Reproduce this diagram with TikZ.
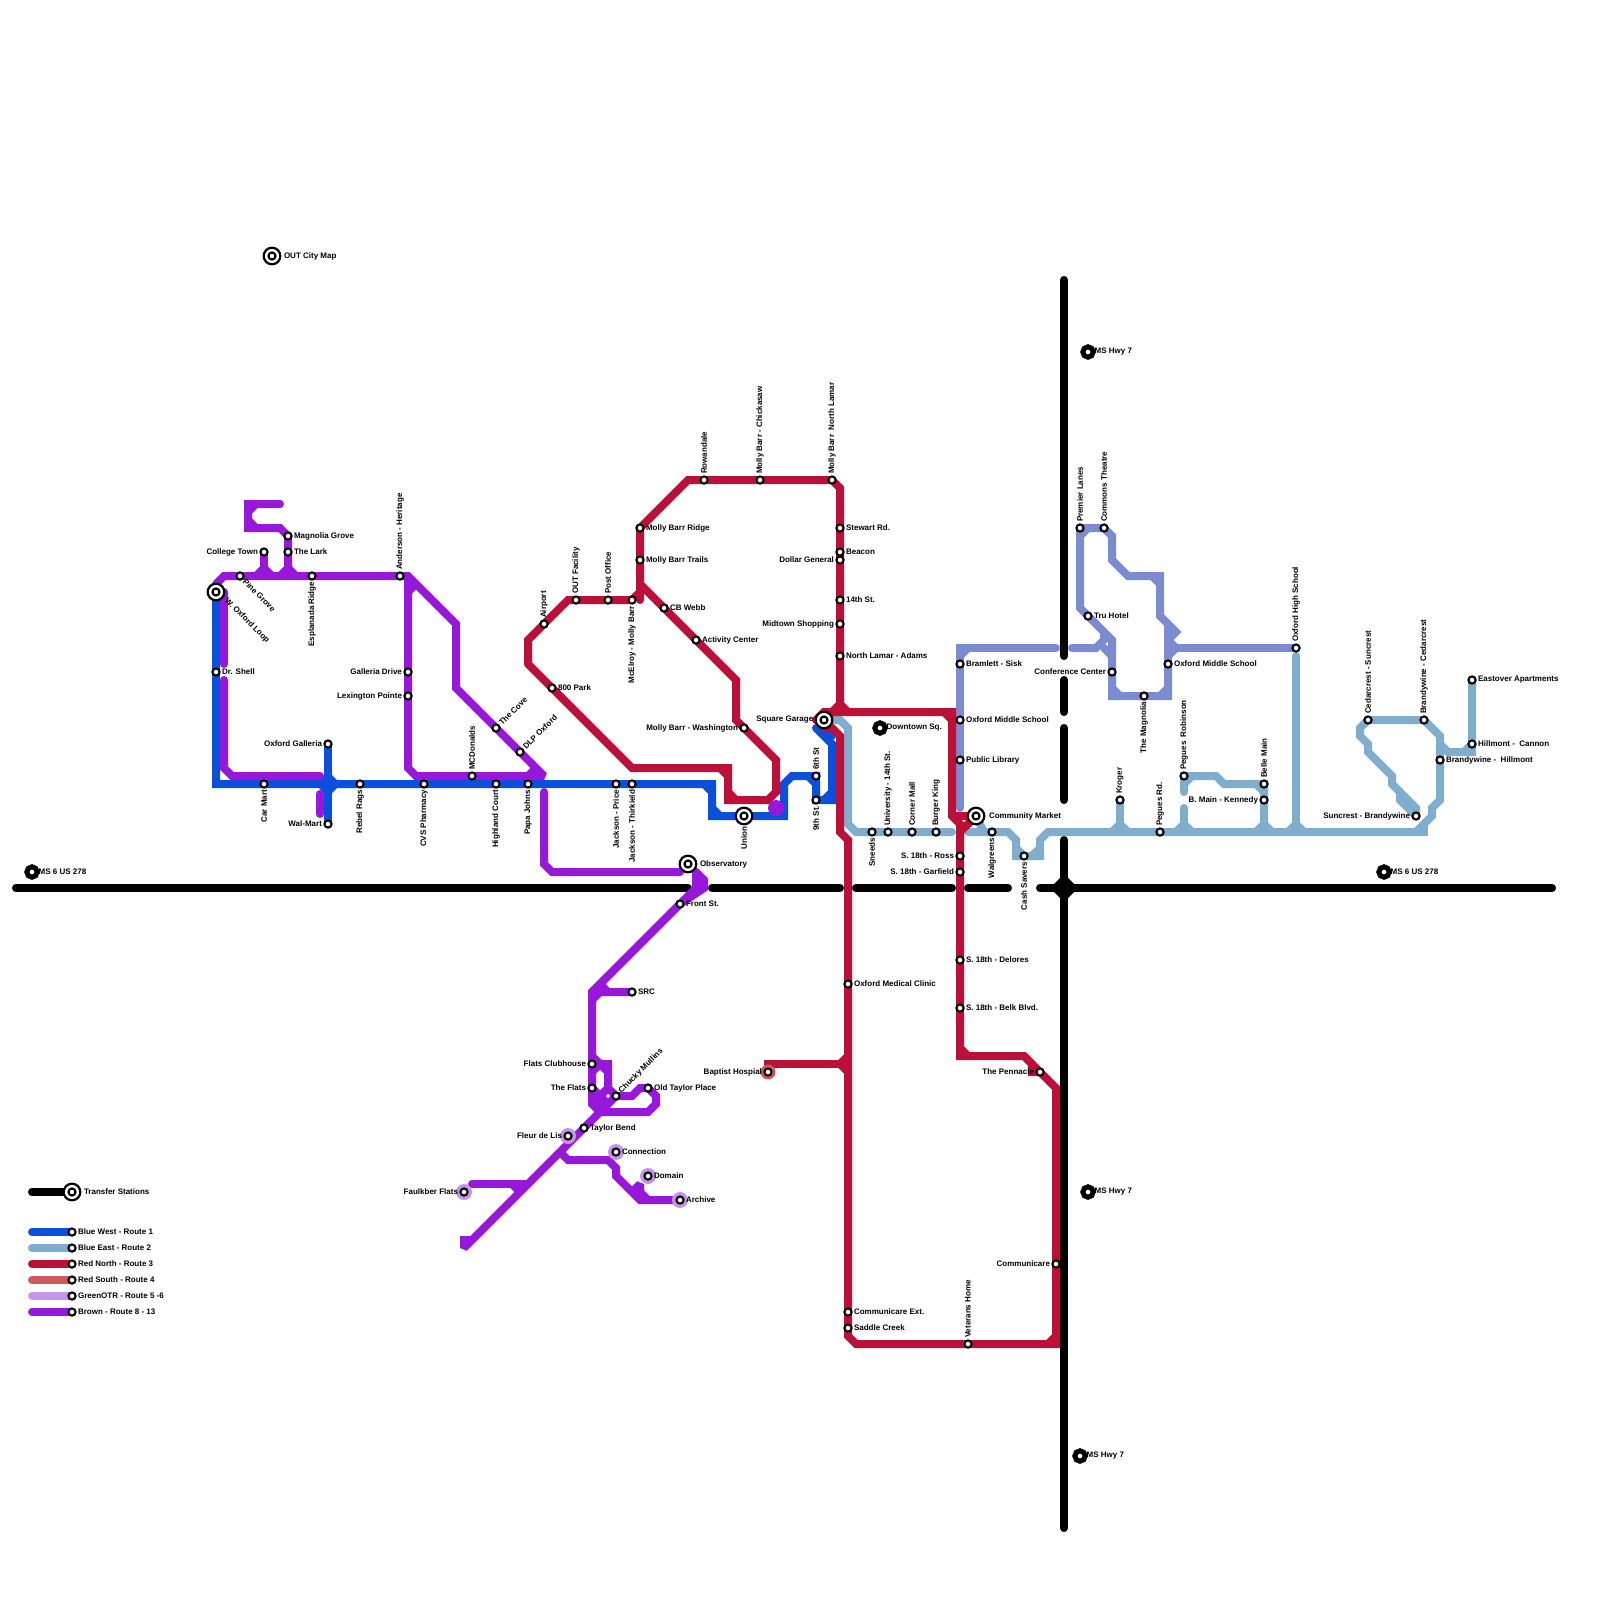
\documentclass[tikz,border=0pt]{standalone}
\usepackage{xcolor}
\usepackage{fontspec}
\setmainfont{Liberation Sans}
\usepackage{tikz}
\usetikzlibrary{backgrounds}
\definecolor{bluewest}{RGB}{10,80,220}
\definecolor{blueeast}{RGB}{127,173,205}
\definecolor{rednorth}{RGB}{189,16,56}
\definecolor{redsouth}{RGB}{206,89,89}
\definecolor{greenotr}{RGB}{199,148,235}
\definecolor{brownline}{RGB}{151,24,219}
\definecolor{periwinkle}{RGB}{122,140,207}
\tikzset{
  route/.style={line width=4pt, line cap=round, line join=miter, miter limit=2},
  road/.style={route, draw=black},
  bw/.style={route, draw=bluewest},
  be/.style={route, draw=blueeast},
  rn/.style={route, draw=rednorth},
  rs/.style={route, draw=redsouth},
  go/.style={route, draw=greenotr},
  br/.style={route, draw=brownline},
  pw/.style={route, draw=periwinkle},
  stop/.style={circle, draw=black, fill=white, line width=1.05pt, inner sep=0pt, minimum size=3.6pt},
  xfer/.style={circle, draw=black, fill=white, line width=1.1pt, inner sep=0pt, minimum size=8.3pt,
    path picture={\draw[line width=1.1pt] (path picture bounding box.center) circle (1.75pt);}},
  term/.style={circle, draw=black, fill=white, line width=2.5pt, inner sep=0pt, minimum size=5.2pt},
  halogo/.style={circle, fill=greenotr, inner sep=0pt, minimum size=8pt},
  halors/.style={circle, fill=redsouth, inner sep=0pt, minimum size=7.5pt},
  lbl/.style={font=\fontsize{4}{4.8}\selectfont\bfseries, inner sep=0.5pt},
  lr/.style={label={[lbl]right:#1}},
  lt/.style={label={[lbl,xshift=-1.2pt]right:#1}},
  lx/.style={label={[lbl,xshift=0.6pt]right:#1}},
  ll/.style={label={[lbl]left:#1}},
  lu/.style={label={[lbl,rotate=90,anchor=west]above:#1}},
  ld/.style={label={[lbl,rotate=90,anchor=east]below:#1}},
  lne/.style={label={[lbl,rotate=45,anchor=west]45:#1}},
  lse/.style={label={[lbl,rotate=-45,anchor=west]-45:#1}}
}
\begin{document}
\begin{tikzpicture}[x=0.5pt, y=-0.5pt]
\useasboundingbox (0,0) rectangle (1600,1600);
% transfer and end points
\node[xfer, label={[lbl,rotate=-45,anchor=west,xshift=0.8pt,yshift=0.8pt]-45:W. Oxford Loop}] (oxfordloop) at (216,592) {};
\node[xfer, lx=OUT City Map] (citymap) at (272,256) {};
\node[xfer, ll={Square Garage\hspace{1pt}}] (squaregarage) at (824,720) {};
\node[xfer, ld=Union] (unionst) at (744,816) {};
\node[xfer, lx=Observatory] (observatory) at (688,864) {};
\node[xfer, lx={\hspace{0.5pt}Community Market}] (commarket) at (976,816) {};
\node[term, lt=Downtown Sq.] (downtown) at (880,728) {};
\node[term, lt=MS 6 US 278] (ms6west) at (32,872) {};
\node[term, lt=MS 6 US 278] (ms6east) at (1384,872) {};
\node[term, lt=MS Hwy 7] (hwynorth) at (1088,352) {};
\node[term, lt=MS Hwy 7] (hwymid) at (1088,1192) {};
\node[term, lt=MS Hwy 7] (hwysouth) at (1080,1456) {};
% blue west
\node[stop, lr=Dr. Shell] (drshell) at (216,672) {};
\node[stop, ld=Car Mart] (carmart) at (264,784) {};
\node[stop, ll=Oxford Galleria] (galleria) at (328,744) {};
\node[stop, ll=Wal-Mart] (walmart) at (328,824) {};
\node[stop, ld=Rebel Rags] (rebelrags) at (360,784) {};
\node[stop, ld=CVS Pharmacy] (cvs) at (424,784) {};
\node[stop, ld=Highland Court] (highland) at (496,784) {};
\node[stop, ld=Papa Johns] (papajohns) at (528,784) {};
\node[stop, ld=Jackson - Price] (jprice) at (616,784) {};
\node[stop, ld=Jackson - Thirkield] (jthirkield) at (632,784) {};
\node[stop, lu=6th St] (sixth) at (816,776) {};
\node[stop, ld=9th St.] (ninth) at (816,800) {};
% brown
\node[stop, lse=Pine Grove] (pinegrove) at (240,576) {};
\node[stop, ll=College Town] (collegetown) at (264,552) {};
\node[stop, lr=Magnolia Grove] (magnolia) at (288,536) {};
\node[stop, lr=The Lark] (lark) at (288,552) {};
\node[stop, ld=Esplanada Ridge] (esplanada) at (312,576) {};
\node[stop, lu=Anderson - Heritage] (anderson) at (400,576) {};
\node[stop, ll=Galleria Drive] (galleriadr) at (408,672) {};
\node[stop, ll=Lexington Pointe] (lexington) at (408,696) {};
\node[stop, lu=MCDonalds] (mcdonalds) at (472,776) {};
\node[stop, lne=The Cove] (cove) at (496,728) {};
\node[stop, lne=DLP Oxford] (dlp) at (520,752) {};
\node[stop, lr=Front St.] (frontst) at (680,904) {};
\node[stop, lr=SRC] (src) at (632,992) {};
\node[stop, ll=Flats Clubhouse] (clubhouse) at (592,1064) {};
\node[stop, ll=The Flats] (flats) at (592,1088) {};
\node[stop, lne=Chucky Mullins] (chucky) at (616,1096) {};
\node[stop, lr=Old Taylor Place] (oldtaylor) at (648,1088) {};
\node[stop, lr=Taylor Bend] (taylorbend) at (584,1128) {};
\node[halogo] (fleurhalo) at (568,1136) {};
\node[stop, ll={Fleur de Lis\hspace{1.5pt}}] (fleur) at (568,1136) {};
\node[halogo] (connhalo) at (616,1152) {};
\node[stop, lr=Connection] (connection) at (616,1152) {};
\node[halogo] (domainhalo) at (648,1176) {};
\node[stop, lr=Domain] (domain) at (648,1176) {};
\node[halogo] (archivehalo) at (680,1200) {};
\node[stop, lr=Archive] (archive) at (680,1200) {};
\node[halogo] (faulkhalo) at (464,1192) {};
\node[stop, ll={Faulkber Flats\hspace{1.5pt}}] (faulkner) at (464,1192) {};
\node[circle, fill=brownline, inner sep=0pt, minimum size=8pt] (junctiondot) at (776,808) {};
% red
\node[stop, lu=Airport] (airport) at (544,624) {};
\node[stop, lu=OUT Facility] (outfacility) at (576,600) {};
\node[stop, lu=Post Office] (postoffice) at (608,600) {};
\node[stop, ld=McElroy - Molly Barr] (mcelroy) at (632,600) {};
\node[stop, lr=800 Park] (park) at (552,688) {};
\node[stop, lr=Molly Barr Ridge] (ridge) at (640,528) {};
\node[stop, lr=Molly Barr Trails] (trails) at (640,560) {};
\node[stop, lr=CB Webb] (cbwebb) at (664,608) {};
\node[stop, lr=Activity Center] (activity) at (696,640) {};
\node[stop, ll=Molly Barr - Washington] (washington) at (744,728) {};
\node[stop, lu=Rowandale] (rowandale) at (704,480) {};
\node[stop, lu=Molly Barr - Chickasaw] (chickasaw) at (760,480) {};
\node[stop, lu={Molly Barr~ North Lamar}] (northlamar) at (832,480) {};
\node[stop, lr=Stewart Rd.] (stewart) at (840,528) {};
\node[stop, lr=Beacon] (beacon) at (840,552) {};
\node[stop, ll=Dollar General] (dollar) at (840,560) {};
\node[stop, lr=14th St.] (fourteenth) at (840,600) {};
\node[stop, ll=Midtown Shopping] (midtown) at (840,624) {};
\node[stop, lr=North Lamar - Adams] (adams) at (840,656) {};
\node[stop, lr=Oxford Medical Clinic] (medical) at (848,984) {};
\node[halors] (baptisthalo) at (768,1072) {};
\node[stop, ll={Baptist Hospial\hspace{1pt}}] (baptist) at (768,1072) {};
\node[stop, lr=Communicare Ext.] (commext) at (848,1312) {};
\node[stop, lr=Saddle Creek] (saddle) at (848,1328) {};
\node[stop, lu=Veterans Home] (veterans) at (968,1344) {};
\node[stop, ll=Communicare] (communicare) at (1056,1264) {};
\node[stop, ll=The Pennacle] (pennacle) at (1040,1072) {};
\node[stop, ll=S. 18th - Ross] (ross) at (960,856) {};
\node[stop, ll=S. 18th - Garfield] (garfield) at (960,872) {};
\node[stop, lr=S. 18th - Delores] (delores) at (960,960) {};
\node[stop, lr=S. 18th - Belk Blvd.] (belk) at (960,1008) {};
% periwinkle
\node[stop, lr=Bramlett - Sisk] (bramlett) at (960,664) {};
\node[stop, lr=Oxford Middle School] (middlewest) at (960,720) {};
\node[stop, lr=Public Library] (library) at (960,760) {};
\node[stop, lu=Premier Lanes] (premier) at (1080,528) {};
\node[stop, lu=Commons Theatre] (commons) at (1104,528) {};
\node[stop, lr=Tru Hotel] (truhotel) at (1088,616) {};
\node[stop, ll=Conference Center] (conference) at (1112,672) {};
\node[stop, ld=The Magnolia] (themagnolia) at (1144,696) {};
\node[stop, lr=Oxford Middle School] (middleeast) at (1168,664) {};
\node[stop, lu=Oxford High School] (highschool) at (1296,648) {};
% blue east
\node[stop, ld=Sneeds] (sneeds) at (872,832) {};
\node[stop, lu=University - 14th St.] (university) at (888,832) {};
\node[stop, lu=Corner Mall] (cornermall) at (912,832) {};
\node[stop, lu=Burger King] (burgerking) at (936,832) {};
\node[stop, ld=Walgreens] (walgreens) at (992,832) {};
\node[stop, ld=Cash Savers] (cashsavers) at (1024,856) {};
\node[stop, lu=Kroger] (kroger) at (1120,800) {};
\node[stop, lu=Pegues Rd.] (peguesrd) at (1160,832) {};
\node[stop, lu={Pegues~ Robinson}] (robinson) at (1184,776) {};
\node[stop, lu=Belle Main] (bellemain) at (1264,784) {};
\node[stop, ll=B. Main - Kennedy] (kennedy) at (1264,800) {};
\node[stop, lu=Cedarcrest - Suncrest] (cedarcrest) at (1368,720) {};
\node[stop, lu=Brandywine - Cedarcrest] (brandycedar) at (1424,720) {};
\node[stop, ll=Suncrest - Brandywine] (suncrest) at (1416,816) {};
\node[stop, lr={Brandywine -~ Hillmont}] (brandyhill) at (1440,760) {};
\node[stop, lr={Hillmont -~ Cannon}] (cannon) at (1472,744) {};
\node[stop, lr=Eastover Apartments] (eastover) at (1472,680) {};
% legend
\node[xfer, lx=Transfer Stations] (lgxfer) at (72,1192) {};
\node[stop, lr=Blue West - Route 1] (lgbw) at (72,1232) {};
\node[stop, lr=Blue East - Route 2] (lgbe) at (72,1248) {};
\node[stop, lr=Red North - Route 3] (lgrn) at (72,1264) {};
\node[stop, lr=Red South - Route 4] (lgrs) at (72,1280) {};
\node[stop, lr=GreenOTR - Route 5 -6] (lggo) at (72,1296) {};
\node[stop, lr=Brown - Route 8 - 13] (lgbr) at (72,1312) {};
\coordinate (lgxferend) at (32,1192);
\coordinate (lgbwend) at (32,1232);
\coordinate (lgbeend) at (32,1248);
\coordinate (lgrnend) at (32,1264);
\coordinate (lgrsend) at (32,1280);
\coordinate (lggoend) at (32,1296);
\coordinate (lgbrend) at (32,1312);
\begin{scope}[on background layer]
\draw[road] (lgxferend) -- (lgxfer.center);
\draw[bw] (lgbwend) -- (lgbw.center);
\draw[be] (lgbeend) -- (lgbe.center);
\draw[rn] (lgrnend) -- (lgrn.center);
\draw[rs] (lgrsend) -- (lgrs.center);
\draw[go] (lggoend) -- (lggo.center);
\draw[br] (lgbrend) -- (lgbr.center);
% roads
\draw[road] (16,888) -- (688,888);
\draw[road] (712,888) -- (840,888);
\draw[road] (856,888) -- (952,888);
\draw[road] (968,888) -- (1008,888);
\draw[road] (1040,888) -- (1552,888);
\draw[road] (1064,280) -- (1064,656);
\draw[road] (1064,680) -- (1064,712);
\draw[road] (1064,728) -- (1064,800);
\draw[road] (1064,840) -- (1064,1528);
\fill[black] (1050,888) -- (1064,874) -- (1078,888) -- (1064,902) -- cycle;
% blue east
\draw[be] (squaregarage.center) -- (840,720) -- (848,728) -- (848,824) -- (856,832) -- (sneeds.center) -- (burgerking.center) -- (952,832);
\draw[be] (commarket.center) -- (984,832);
\draw[be] (968,832) -- (walgreens.center) -- (1008,832) -- (1016,840) -- (1016,856) -- (cashsavers.center) -- (1040,856) -- (1040,840) -- (1048,832) -- (peguesrd.center) -- (1424,832);
\draw[be] (1016,848) -- (1024,856);
\draw[be] (1032,856) -- (1040,848);
\draw[be] (kroger.center) -- (1120,832);
\draw[be] (1112,832) -- (1120,824) -- (1128,832);
\draw[be] (1184,792) -- (robinson.center) -- (1216,776) -- (1224,784) -- (bellemain.center) -- (kennedy.center) -- (1264,832);
\draw[be] (1184,784) -- (1192,776);
\draw[be] (1256,784) -- (1264,792);
\draw[be] (1184,808) -- (1184,832);
\draw[be] (1176,832) -- (1184,824) -- (1192,832);
\draw[be] (1256,832) -- (1264,824) -- (1272,832);
\draw[be] (1296,656) -- (1296,832);
\draw[be] (1288,832) -- (1296,824) -- (1304,832);
\draw[be] (1424,824) -- (1424,832) -- (1416,832);
\draw[be] (cedarcrest.center) -- (brandycedar.center) -- (1440,736) -- (brandyhill.center) -- (1440,800) -- (1432,808) -- (1432,816) -- (1416,832);
\draw[be] (cedarcrest.center) -- (1360,728) -- (1360,736) -- (1368,744) -- (1368,752) -- (1392,776) -- (1392,784) -- (1400,792) -- (1400,800) -- (suncrest.center);
\draw[be] (1392,784) -- (1416,808) -- (suncrest.center);
\draw[be] (eastover.center) -- (cannon.center) -- (1472,752) -- (1448,752) -- (1440,744);
\draw[be] (1464,752) -- (1472,744);
% periwinkle
\draw[pw] (960,808) -- (bramlett.center) -- (960,648) -- (1056,648);
\draw[pw] (960,656) -- (968,648);
\draw[pw] (1072,648) -- (1096,648) -- (1104,640) -- (1104,632);
\draw[pw] (1104,648) -- (1112,656);
\draw[pw] (premier.center) -- (commons.center) -- (1112,536) -- (1112,560) -- (1128,576) -- (1160,576) -- (1160,616) -- (1176,632) -- (1168,640);
\draw[pw] (1152,576) -- (1160,584);
\draw[pw] (1080,536) -- (1088,528);
\draw[pw] (premier.center) -- (1080,608) -- (truhotel.center) -- (1112,640) -- (conference.center) -- (1112,696) -- (themagnolia.center) -- (1168,696) -- (middleeast.center) -- (1168,624);
\draw[pw] (1112,688) -- (1120,696);
\draw[pw] (1160,696) -- (1168,688);
\draw[pw] (1168,648) -- (highschool.center);
\draw[pw] (1168,640) -- (1176,648) -- (1168,656);
% blue west
\draw[bw] (oxfordloop.center) -- (216,784) -- (carmart.center) -- (712,784) -- (712,816) -- (784,816) -- (784,784) -- (792,776) -- (sixth.center) -- (ninth.center) -- (832,800) -- (832,744) -- (816,728);
\draw[bw] (704,784) -- (712,792);
\draw[bw] (712,808) -- (720,816);
\draw[bw] (808,776) -- (816,784);
\draw[bw] (824,800) -- (832,792);
\draw[bw] (824,728) -- (832,736);
\draw[bw] (galleria.center) -- (walmart.center);
\fill[bluewest] (315,784) -- (328,771) -- (341,784) -- (328,797) -- cycle;
% brown
\draw[br] (216,584) -- (224,576) -- (anderson.center) -- (408,576) -- (456,624) -- (456,688) -- (cove.center) -- (544,776) -- (416,776) -- (408,768) -- (408,576);
\draw[br] (408,592) -- (416,584);
\draw[br] (528,776) -- (536,768);
\draw[br] (224,592) -- (224,664);
\draw[br] (224,680) -- (224,768) -- (232,776) -- (320,776);
\draw[br] (320,794) -- (320,814);
\draw[br] (collegetown.center) -- (264,576);
\draw[br] (256,576) -- (264,568) -- (272,576);
\draw[br] (280,504) -- (248,504) -- (248,528) -- (280,528) -- (288,536) -- (288,576);
\draw[br] (248,512) -- (256,504);
\draw[br] (248,520) -- (256,528);
\draw[br] (280,576) -- (288,568) -- (296,576);
\draw[br] (544,792) -- (544,864) -- (552,872) -- (680,872);
\draw[br] (696,872) -- (704,880) -- (704,888) -- (frontst.center) -- (592,992) -- (592,1104) -- (600,1112);
\draw[br] (704,880) -- (592,992);
\draw[br] (696,872) -- (696,888) -- (704,888);
\draw[br] (592,1000) -- (600,992) -- (src.center);
\draw[br] (600,984) -- (608,992);
\draw[br] (592,1056) -- (600,1064) -- (608,1064) -- (608,1088) -- (chucky.center) -- (632,1096) -- (640,1088) -- (oldtaylor.center) -- (656,1096) -- (656,1104) -- (648,1112) -- (600,1112);
\draw[br] (flats.center) -- (608,1104) -- (616,1096);
\draw[br] (592,1072) -- (600,1064) -- (608,1072);
\draw[br] (592,1088) -- (600,1096) -- (608,1088);
\draw[br] (600,1096) -- (600,1112) -- (608,1104);
\draw[br] (600,1112) -- (taylorbend.center) -- (464,1248) -- (464,1240) -- (472,1240);
\draw[br] (472,1184) -- (528,1184);
\draw[br] (512,1184) -- (520,1192);
\draw[br] (560,1152) -- (568,1160) -- (608,1160) -- (616,1168) -- (616,1176) -- (640,1200) -- (archive.center);
\draw[br] (632,1192) -- (640,1184) -- (640,1192) -- (648,1200);
% red
\draw[rn] (528,664) -- (528,640) -- (568,600) -- (mcelroy.center);
\draw[rn] (528,664) -- (632,768) -- (728,768) -- (728,800) -- (768,800) -- (776,792) -- (776,760) -- (washington.center) -- (736,720) -- (736,680) -- (640,584);
\draw[rn] (720,768) -- (728,776);
\draw[rn] (728,792) -- (736,800);
\draw[rn] (mcelroy.center) -- (640,592);
\draw[rn] (640,600) -- (ridge.center) -- (688,480) -- (northlamar.center) -- (840,488) -- (840,712);
\draw[rn] (832,712) -- (840,704) -- (848,712);
\draw[rn] (816,720) -- (824,712) -- (952,712) -- (952,816) -- (960,824) -- (960,1056) -- (1024,1056) -- (1056,1088) -- (communicare.center) -- (1056,1344) -- (856,1344) -- (848,1336) -- (848,840) -- (840,832) -- (840,736) -- (832,728) -- (824,728);
\draw[rn] (944,712) -- (952,720);
\draw[rn] (952,816) -- (976,816) -- (960,832);
\draw[rn] (960,1048) -- (968,1056);
\draw[rn] (1024,1056) -- (1032,1064) -- (1032,1072) -- (pennacle.center);
\draw[rn] (1048,1344) -- (1056,1336);
\draw[rn] (baptist.center) -- (768,1064) -- (848,1064);
\draw[rn] (848,1056) -- (840,1064) -- (848,1072);
\end{scope}
\end{tikzpicture}
\end{document}
